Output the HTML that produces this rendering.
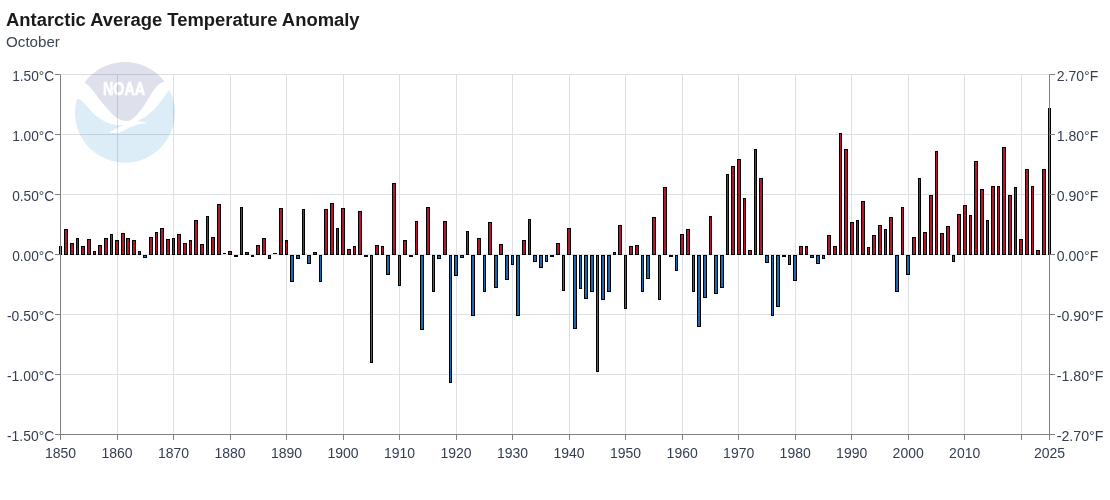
<!DOCTYPE html>
<html lang="en"><head><meta charset="utf-8"><title>Antarctic Average Temperature Anomaly</title>
<style>html,body{margin:0;padding:0;background:#fff}body{width:1110px;height:500px;overflow:hidden}svg{display:block}text{font-family:"Liberation Sans", sans-serif}</style></head><body>
<svg width="1110" height="500" viewBox="0 0 1110 500">
<rect width="1110" height="500" fill="#fff"/>
<g id="logo">
<path d="M77 98.5A50 50 0 1 0 169.5 90C169.1 90.5 167.9 91.8 167.0 93.0C166.1 94.2 165.0 95.7 164.0 97.0C163.0 98.3 162.0 99.7 161.0 101.0C160.0 102.3 159.0 103.8 158.0 105.0C157.0 106.2 156.0 107.4 155.0 108.5C154.0 109.6 153.2 110.4 152.0 111.5C150.8 112.6 149.3 114.0 148.0 115.0C146.7 116.0 145.3 117.0 144.0 117.8C142.7 118.6 141.3 119.2 140.0 119.8C138.7 120.4 136.9 121.0 136.3 121.2C136.9 121.3 138.5 121.3 139.8 121.4C141.1 121.5 142.7 121.7 144.0 122.0C145.3 122.3 146.8 122.8 147.4 123.0L147.4 123.3C146.8 123.3 145.3 123.4 144.0 123.5C142.7 123.6 141.4 123.5 139.8 123.9C138.2 124.3 136.1 125.0 134.2 125.7C132.3 126.4 130.5 127.2 128.6 128.1C126.7 129.0 124.8 130.1 123.0 130.9C121.2 131.7 119.7 132.7 118.0 133.0C116.3 133.3 114.5 133.1 113.0 133.0C111.5 132.9 109.7 132.3 109.0 132.2C109.9 131.8 112.8 130.4 114.6 129.5C116.3 128.6 118.0 127.7 119.5 127.0C121.0 126.3 122.8 125.6 123.4 125.3C122.6 125.3 120.3 125.4 118.8 125.3C117.3 125.2 116.2 125.0 114.6 124.7C113.0 124.4 110.8 123.9 109.0 123.3C107.2 122.7 105.5 121.9 104.0 121.1C102.5 120.3 101.3 119.4 100.0 118.5C98.7 117.6 97.3 116.8 96.0 115.7C94.7 114.6 93.3 113.4 92.0 112.0C90.7 110.6 89.3 109.0 88.0 107.5C86.7 106.0 85.3 104.3 84.0 103.0C82.7 101.7 81.2 100.5 80.0 99.8C78.8 99.0 77.5 98.7 77.0 98.5Z" fill="#dcedf7"/>
<path d="M84.5 82.5A50 50 0 0 1 164.5 81.5C163.8 81.8 161.4 82.6 160.0 83.5C158.6 84.4 157.2 85.8 156.0 87.0C154.8 88.2 154.0 89.5 153.0 91.0C152.0 92.5 151.1 94.2 150.0 96.0C148.9 97.8 147.7 99.8 146.6 101.5C145.5 103.2 144.6 104.8 143.4 106.5C142.2 108.2 140.6 110.4 139.3 112.0C138.0 113.6 136.7 115.0 135.4 116.3C134.1 117.5 132.8 118.7 131.6 119.5C130.3 120.3 128.5 120.8 127.9 121.0C127.4 121.0 126.5 121.1 125.1 120.8C123.7 120.5 121.4 120.3 119.5 119.4C117.6 118.5 115.7 117.0 113.9 115.5C112.2 114.0 110.6 112.3 109.0 110.6C107.4 108.8 105.6 106.8 104.1 105.0C102.6 103.2 101.3 101.8 100.0 100.0C98.7 98.2 97.3 96.2 96.0 94.5C94.7 92.8 93.3 91.0 92.0 89.5C90.7 88.0 89.2 86.5 88.0 85.3C86.8 84.1 85.1 83.0 84.5 82.5Z" fill="#dee1ec"/>
<text x="103" y="94.5" font-size="19" font-weight="bold" fill="#fff" stroke="#fff" stroke-width="0.7" textLength="42" lengthAdjust="spacingAndGlyphs">NOAA</text>
</g>
<path d="M117.5 75V435M173.5 75V435M230.5 75V435M286.5 75V435M343.5 75V435M399.5 75V435M456.5 75V435M512.5 75V435M569.5 75V435M625.5 75V435M682.5 75V435M738.5 75V435M795.5 75V435M851.5 75V435M908.5 75V435M964.5 75V435M1021.5 75V435M61 74.5H1050M61 134.5H1050M61 194.5H1050M61 254.5H1050M61 314.5H1050M61 374.5H1050" stroke="#dedfe3" stroke-width="1" fill="none" style="mix-blend-mode:multiply"/>
<g stroke="#000" stroke-width="1">
<rect x="59.5" y="246.5" width="2.0" height="8.0" fill="#b2182b"/>
<rect x="64.5" y="229.5" width="3.0" height="25.0" fill="#b2182b"/>
<rect x="70.5" y="243.5" width="3.0" height="11.0" fill="#b2182b"/>
<rect x="76.5" y="238.5" width="2.0" height="16.0" fill="#b2182b"/>
<rect x="81.5" y="246.5" width="3.0" height="8.0" fill="#b2182b"/>
<rect x="87.5" y="239.5" width="3.0" height="15.0" fill="#b2182b"/>
<rect x="93.5" y="251.5" width="2.0" height="3.0" fill="#b2182b"/>
<rect x="98.5" y="245.5" width="3.0" height="9.0" fill="#b2182b"/>
<rect x="104.5" y="238.5" width="3.0" height="16.0" fill="#b2182b"/>
<rect x="110.5" y="234.5" width="2.0" height="20.0" fill="#b2182b"/>
<rect x="115.5" y="240.5" width="3.0" height="14.0" fill="#b2182b"/>
<rect x="121.5" y="233.5" width="3.0" height="21.0" fill="#b2182b"/>
<rect x="126.5" y="238.5" width="3.0" height="16.0" fill="#b2182b"/>
<rect x="132.5" y="240.5" width="3.0" height="14.0" fill="#b2182b"/>
<rect x="138.5" y="251.5" width="2.0" height="3.0" fill="#b2182b"/>
<rect x="143.5" y="255.5" width="3.0" height="2.0" fill="#2166ac"/>
<rect x="149.5" y="237.5" width="3.0" height="17.0" fill="#b2182b"/>
<rect x="155.5" y="232.5" width="2.0" height="22.0" fill="#b2182b"/>
<rect x="160.5" y="228.5" width="3.0" height="26.0" fill="#b2182b"/>
<rect x="166.5" y="239.5" width="3.0" height="15.0" fill="#b2182b"/>
<rect x="172.5" y="238.5" width="2.0" height="16.0" fill="#b2182b"/>
<rect x="177.5" y="234.5" width="3.0" height="20.0" fill="#b2182b"/>
<rect x="183.5" y="243.5" width="3.0" height="11.0" fill="#b2182b"/>
<rect x="189.5" y="240.5" width="2.0" height="14.0" fill="#b2182b"/>
<rect x="194.5" y="220.5" width="3.0" height="34.0" fill="#b2182b"/>
<rect x="200.5" y="244.5" width="3.0" height="10.0" fill="#b2182b"/>
<rect x="206.5" y="216.5" width="2.0" height="38.0" fill="#b2182b"/>
<rect x="211.5" y="237.5" width="3.0" height="17.0" fill="#b2182b"/>
<rect x="217.5" y="204.5" width="3.0" height="50.0" fill="#b2182b"/>
<path d="M223.0 253.5H226.0" fill="none"/>
<rect x="228.5" y="251.5" width="3.0" height="3.0" fill="#b2182b"/>
<rect x="234.5" y="255.5" width="3.0" height="1.0" fill="#2166ac"/>
<rect x="240.5" y="207.5" width="2.0" height="47.0" fill="#b2182b"/>
<rect x="245.5" y="252.5" width="3.0" height="2.0" fill="#b2182b"/>
<rect x="251.5" y="255.5" width="2.0" height="1.0" fill="#2166ac"/>
<rect x="256.5" y="245.5" width="3.0" height="9.0" fill="#b2182b"/>
<rect x="262.5" y="238.5" width="3.0" height="16.0" fill="#b2182b"/>
<rect x="268.5" y="255.5" width="2.0" height="3.0" fill="#2166ac"/>
<path d="M273.0 253.5H277.0" fill="none"/>
<rect x="279.5" y="208.5" width="3.0" height="46.0" fill="#b2182b"/>
<rect x="285.5" y="240.5" width="2.0" height="14.0" fill="#b2182b"/>
<rect x="290.5" y="255.5" width="3.0" height="26.0" fill="#2166ac"/>
<rect x="296.5" y="255.5" width="3.0" height="3.0" fill="#2166ac"/>
<rect x="302.5" y="209.5" width="2.0" height="45.0" fill="#b2182b"/>
<rect x="307.5" y="255.5" width="3.0" height="8.0" fill="#2166ac"/>
<rect x="313.5" y="252.5" width="3.0" height="2.0" fill="#b2182b"/>
<rect x="319.5" y="255.5" width="2.0" height="26.0" fill="#2166ac"/>
<rect x="324.5" y="209.5" width="3.0" height="45.0" fill="#b2182b"/>
<rect x="330.5" y="203.5" width="3.0" height="51.0" fill="#b2182b"/>
<rect x="336.5" y="228.5" width="2.0" height="26.0" fill="#b2182b"/>
<rect x="341.5" y="208.5" width="3.0" height="46.0" fill="#b2182b"/>
<rect x="347.5" y="249.5" width="3.0" height="5.0" fill="#b2182b"/>
<rect x="353.5" y="246.5" width="2.0" height="8.0" fill="#b2182b"/>
<rect x="358.5" y="211.5" width="3.0" height="43.0" fill="#b2182b"/>
<rect x="364.5" y="255.5" width="3.0" height="1.0" fill="#2166ac"/>
<rect x="370.5" y="255.5" width="2.0" height="107.0" fill="#2166ac"/>
<rect x="375.5" y="245.5" width="3.0" height="9.0" fill="#b2182b"/>
<rect x="381.5" y="246.5" width="2.0" height="8.0" fill="#b2182b"/>
<rect x="386.5" y="255.5" width="3.0" height="19.0" fill="#2166ac"/>
<rect x="392.5" y="183.5" width="3.0" height="71.0" fill="#b2182b"/>
<rect x="398.5" y="255.5" width="2.0" height="30.0" fill="#2166ac"/>
<rect x="403.5" y="240.5" width="3.0" height="14.0" fill="#b2182b"/>
<rect x="409.5" y="255.5" width="3.0" height="1.0" fill="#2166ac"/>
<rect x="415.5" y="221.5" width="2.0" height="33.0" fill="#b2182b"/>
<rect x="420.5" y="255.5" width="3.0" height="74.0" fill="#2166ac"/>
<rect x="426.5" y="207.5" width="3.0" height="47.0" fill="#b2182b"/>
<rect x="432.5" y="255.5" width="2.0" height="36.0" fill="#2166ac"/>
<rect x="437.5" y="255.5" width="3.0" height="3.0" fill="#2166ac"/>
<rect x="443.5" y="221.5" width="3.0" height="33.0" fill="#b2182b"/>
<rect x="449.5" y="255.5" width="2.0" height="127.0" fill="#2166ac"/>
<rect x="454.5" y="255.5" width="3.0" height="20.0" fill="#2166ac"/>
<rect x="460.5" y="255.5" width="3.0" height="2.0" fill="#2166ac"/>
<rect x="466.5" y="231.5" width="2.0" height="23.0" fill="#b2182b"/>
<rect x="471.5" y="255.5" width="3.0" height="60.0" fill="#2166ac"/>
<rect x="477.5" y="238.5" width="3.0" height="16.0" fill="#b2182b"/>
<rect x="483.5" y="255.5" width="2.0" height="36.0" fill="#2166ac"/>
<rect x="488.5" y="222.5" width="3.0" height="32.0" fill="#b2182b"/>
<rect x="494.5" y="255.5" width="3.0" height="32.0" fill="#2166ac"/>
<rect x="499.5" y="244.5" width="3.0" height="10.0" fill="#b2182b"/>
<rect x="505.5" y="255.5" width="3.0" height="24.0" fill="#2166ac"/>
<rect x="511.5" y="255.5" width="2.0" height="9.0" fill="#2166ac"/>
<rect x="516.5" y="255.5" width="3.0" height="60.0" fill="#2166ac"/>
<rect x="522.5" y="240.5" width="3.0" height="14.0" fill="#b2182b"/>
<rect x="528.5" y="219.5" width="2.0" height="35.0" fill="#b2182b"/>
<rect x="533.5" y="255.5" width="3.0" height="6.0" fill="#2166ac"/>
<rect x="539.5" y="255.5" width="3.0" height="12.0" fill="#2166ac"/>
<rect x="545.5" y="255.5" width="2.0" height="6.0" fill="#2166ac"/>
<rect x="550.5" y="255.5" width="3.0" height="1.0" fill="#2166ac"/>
<rect x="556.5" y="243.5" width="3.0" height="11.0" fill="#b2182b"/>
<rect x="562.5" y="255.5" width="2.0" height="35.0" fill="#2166ac"/>
<rect x="567.5" y="228.5" width="3.0" height="26.0" fill="#b2182b"/>
<rect x="573.5" y="255.5" width="3.0" height="73.0" fill="#2166ac"/>
<rect x="579.5" y="255.5" width="2.0" height="33.0" fill="#2166ac"/>
<rect x="584.5" y="255.5" width="3.0" height="43.0" fill="#2166ac"/>
<rect x="590.5" y="255.5" width="3.0" height="36.0" fill="#2166ac"/>
<rect x="596.5" y="255.5" width="2.0" height="116.0" fill="#2166ac"/>
<rect x="601.5" y="255.5" width="3.0" height="44.0" fill="#2166ac"/>
<rect x="607.5" y="255.5" width="3.0" height="36.0" fill="#2166ac"/>
<rect x="613.5" y="252.5" width="2.0" height="2.0" fill="#b2182b"/>
<rect x="618.5" y="225.5" width="3.0" height="29.0" fill="#b2182b"/>
<rect x="624.5" y="255.5" width="2.0" height="53.0" fill="#2166ac"/>
<rect x="629.5" y="246.5" width="3.0" height="8.0" fill="#b2182b"/>
<rect x="635.5" y="245.5" width="3.0" height="9.0" fill="#b2182b"/>
<rect x="641.5" y="255.5" width="2.0" height="36.0" fill="#2166ac"/>
<rect x="646.5" y="255.5" width="3.0" height="23.0" fill="#2166ac"/>
<rect x="652.5" y="217.5" width="3.0" height="37.0" fill="#b2182b"/>
<rect x="658.5" y="255.5" width="2.0" height="44.0" fill="#2166ac"/>
<rect x="663.5" y="187.5" width="3.0" height="67.0" fill="#b2182b"/>
<rect x="669.5" y="255.5" width="3.0" height="1.0" fill="#2166ac"/>
<rect x="675.5" y="255.5" width="2.0" height="15.0" fill="#2166ac"/>
<rect x="680.5" y="234.5" width="3.0" height="20.0" fill="#b2182b"/>
<rect x="686.5" y="229.5" width="3.0" height="25.0" fill="#b2182b"/>
<rect x="692.5" y="255.5" width="2.0" height="36.0" fill="#2166ac"/>
<rect x="697.5" y="255.5" width="3.0" height="71.0" fill="#2166ac"/>
<rect x="703.5" y="255.5" width="3.0" height="42.0" fill="#2166ac"/>
<rect x="709.5" y="216.5" width="2.0" height="38.0" fill="#b2182b"/>
<rect x="714.5" y="255.5" width="3.0" height="38.0" fill="#2166ac"/>
<rect x="720.5" y="255.5" width="3.0" height="32.0" fill="#2166ac"/>
<rect x="726.5" y="174.5" width="2.0" height="80.0" fill="#b2182b"/>
<rect x="731.5" y="166.5" width="3.0" height="88.0" fill="#b2182b"/>
<rect x="737.5" y="159.5" width="3.0" height="95.0" fill="#b2182b"/>
<rect x="743.5" y="198.5" width="2.0" height="56.0" fill="#b2182b"/>
<rect x="748.5" y="250.5" width="3.0" height="4.0" fill="#b2182b"/>
<rect x="754.5" y="149.5" width="2.0" height="105.0" fill="#b2182b"/>
<rect x="759.5" y="178.5" width="3.0" height="76.0" fill="#b2182b"/>
<rect x="765.5" y="255.5" width="3.0" height="7.0" fill="#2166ac"/>
<rect x="771.5" y="255.5" width="2.0" height="60.0" fill="#2166ac"/>
<rect x="776.5" y="255.5" width="3.0" height="51.0" fill="#2166ac"/>
<rect x="782.5" y="255.5" width="3.0" height="1.0" fill="#2166ac"/>
<rect x="788.5" y="255.5" width="2.0" height="9.0" fill="#2166ac"/>
<rect x="793.5" y="255.5" width="3.0" height="25.0" fill="#2166ac"/>
<rect x="799.5" y="246.5" width="3.0" height="8.0" fill="#b2182b"/>
<rect x="805.5" y="246.5" width="2.0" height="8.0" fill="#b2182b"/>
<rect x="810.5" y="255.5" width="3.0" height="2.0" fill="#2166ac"/>
<rect x="816.5" y="255.5" width="3.0" height="8.0" fill="#2166ac"/>
<rect x="822.5" y="255.5" width="2.0" height="3.0" fill="#2166ac"/>
<rect x="827.5" y="235.5" width="3.0" height="19.0" fill="#b2182b"/>
<rect x="833.5" y="246.5" width="3.0" height="8.0" fill="#b2182b"/>
<rect x="839.5" y="133.5" width="2.0" height="121.0" fill="#b2182b"/>
<rect x="844.5" y="149.5" width="3.0" height="105.0" fill="#b2182b"/>
<rect x="850.5" y="222.5" width="3.0" height="32.0" fill="#b2182b"/>
<rect x="856.5" y="220.5" width="2.0" height="34.0" fill="#b2182b"/>
<rect x="861.5" y="201.5" width="3.0" height="53.0" fill="#b2182b"/>
<rect x="867.5" y="247.5" width="2.0" height="7.0" fill="#b2182b"/>
<rect x="872.5" y="235.5" width="3.0" height="19.0" fill="#b2182b"/>
<rect x="878.5" y="225.5" width="3.0" height="29.0" fill="#b2182b"/>
<rect x="884.5" y="229.5" width="2.0" height="25.0" fill="#b2182b"/>
<rect x="889.5" y="217.5" width="3.0" height="37.0" fill="#b2182b"/>
<rect x="895.5" y="255.5" width="3.0" height="36.0" fill="#2166ac"/>
<rect x="901.5" y="207.5" width="2.0" height="47.0" fill="#b2182b"/>
<rect x="906.5" y="255.5" width="3.0" height="19.0" fill="#2166ac"/>
<rect x="912.5" y="237.5" width="3.0" height="17.0" fill="#b2182b"/>
<rect x="918.5" y="178.5" width="2.0" height="76.0" fill="#b2182b"/>
<rect x="923.5" y="232.5" width="3.0" height="22.0" fill="#b2182b"/>
<rect x="929.5" y="195.5" width="3.0" height="59.0" fill="#b2182b"/>
<rect x="935.5" y="151.5" width="2.0" height="103.0" fill="#b2182b"/>
<rect x="940.5" y="233.5" width="3.0" height="21.0" fill="#b2182b"/>
<rect x="946.5" y="226.5" width="3.0" height="28.0" fill="#b2182b"/>
<rect x="952.5" y="255.5" width="2.0" height="6.0" fill="#2166ac"/>
<rect x="957.5" y="214.5" width="3.0" height="40.0" fill="#b2182b"/>
<rect x="963.5" y="205.5" width="3.0" height="49.0" fill="#b2182b"/>
<rect x="969.5" y="215.5" width="2.0" height="39.0" fill="#b2182b"/>
<rect x="974.5" y="161.5" width="3.0" height="93.0" fill="#b2182b"/>
<rect x="980.5" y="189.5" width="3.0" height="65.0" fill="#b2182b"/>
<rect x="986.5" y="220.5" width="2.0" height="34.0" fill="#b2182b"/>
<rect x="991.5" y="186.5" width="3.0" height="68.0" fill="#b2182b"/>
<rect x="997.5" y="186.5" width="2.0" height="68.0" fill="#b2182b"/>
<rect x="1002.5" y="147.5" width="3.0" height="107.0" fill="#b2182b"/>
<rect x="1008.5" y="195.5" width="3.0" height="59.0" fill="#b2182b"/>
<rect x="1014.5" y="187.5" width="2.0" height="67.0" fill="#b2182b"/>
<rect x="1019.5" y="239.5" width="3.0" height="15.0" fill="#b2182b"/>
<rect x="1025.5" y="169.5" width="3.0" height="85.0" fill="#b2182b"/>
<rect x="1031.5" y="186.5" width="2.0" height="68.0" fill="#b2182b"/>
<rect x="1036.5" y="250.5" width="3.0" height="4.0" fill="#b2182b"/>
<rect x="1042.5" y="169.5" width="3.0" height="85.0" fill="#b2182b"/>
<rect x="1048.5" y="108.5" width="2.0" height="146.0" fill="#b2182b"/>
</g>
<path d="M60.5 74.5V435M1049.5 74.5V435M60 434.5H1050M55 74.5H60.5M1049.5 74.5H1055M55 134.5H60.5M1049.5 134.5H1055M55 194.5H60.5M1049.5 194.5H1055M55 254.5H60.5M1049.5 254.5H1055M55 314.5H60.5M1049.5 314.5H1055M55 374.5H60.5M1049.5 374.5H1055M55 434.5H60.5M1049.5 434.5H1055M60.5 434.5V440M117.5 434.5V440M173.5 434.5V440M230.5 434.5V440M286.5 434.5V440M343.5 434.5V440M399.5 434.5V440M456.5 434.5V440M512.5 434.5V440M569.5 434.5V440M625.5 434.5V440M682.5 434.5V440M738.5 434.5V440M795.5 434.5V440M851.5 434.5V440M908.5 434.5V440M964.5 434.5V440M1021.5 434.5V440M1049.5 434.5V440" stroke="#808080" stroke-width="1" fill="none"/>
<g fill="#343e50" font-size="14">
<text x="12.2" y="81.0" textLength="42.0" lengthAdjust="spacingAndGlyphs">1.50°C</text>
<text x="12.2" y="141.0" textLength="42.0" lengthAdjust="spacingAndGlyphs">1.00°C</text>
<text x="12.2" y="201.0" textLength="42.0" lengthAdjust="spacingAndGlyphs">0.50°C</text>
<text x="12.2" y="261.0" textLength="42.0" lengthAdjust="spacingAndGlyphs">0.00°C</text>
<text x="7.0" y="321.0" textLength="47.2" lengthAdjust="spacingAndGlyphs">-0.50°C</text>
<text x="7.0" y="381.0" textLength="47.2" lengthAdjust="spacingAndGlyphs">-1.00°C</text>
<text x="7.0" y="441.0" textLength="47.2" lengthAdjust="spacingAndGlyphs">-1.50°C</text>
<text x="1056.7" y="81.0" font-size="15" textLength="41.6" lengthAdjust="spacingAndGlyphs">2.70°F</text>
<text x="1056.7" y="141.0" font-size="15" textLength="41.6" lengthAdjust="spacingAndGlyphs">1.80°F</text>
<text x="1056.7" y="201.0" font-size="15" textLength="41.6" lengthAdjust="spacingAndGlyphs">0.90°F</text>
<text x="1056.7" y="261.0" font-size="15" textLength="41.6" lengthAdjust="spacingAndGlyphs">0.00°F</text>
<text x="1056.7" y="321.0" font-size="15" textLength="46.8" lengthAdjust="spacingAndGlyphs">-0.90°F</text>
<text x="1056.7" y="381.0" font-size="15" textLength="46.8" lengthAdjust="spacingAndGlyphs">-1.80°F</text>
<text x="1056.7" y="441.0" font-size="15" textLength="46.8" lengthAdjust="spacingAndGlyphs">-2.70°F</text>
<text x="60.5" y="458" text-anchor="middle">1850</text>
<text x="117.0" y="458" text-anchor="middle">1860</text>
<text x="173.5" y="458" text-anchor="middle">1870</text>
<text x="230.0" y="458" text-anchor="middle">1880</text>
<text x="286.6" y="458" text-anchor="middle">1890</text>
<text x="343.1" y="458" text-anchor="middle">1900</text>
<text x="399.6" y="458" text-anchor="middle">1910</text>
<text x="456.1" y="458" text-anchor="middle">1920</text>
<text x="512.6" y="458" text-anchor="middle">1930</text>
<text x="569.1" y="458" text-anchor="middle">1940</text>
<text x="625.6" y="458" text-anchor="middle">1950</text>
<text x="682.2" y="458" text-anchor="middle">1960</text>
<text x="738.7" y="458" text-anchor="middle">1970</text>
<text x="795.2" y="458" text-anchor="middle">1980</text>
<text x="851.7" y="458" text-anchor="middle">1990</text>
<text x="908.2" y="458" text-anchor="middle">2000</text>
<text x="964.7" y="458" text-anchor="middle">2010</text>
<text x="1049.5" y="458" text-anchor="middle">2025</text>
</g>
<text x="6" y="25.5" font-size="17.5" font-weight="bold" fill="#1b1b1b" textLength="353.6" lengthAdjust="spacingAndGlyphs">Antarctic Average Temperature Anomaly</text>
<text x="6.1" y="47" font-size="15" fill="#3d4551" textLength="53.8" lengthAdjust="spacingAndGlyphs">October</text>
</svg></body></html>
